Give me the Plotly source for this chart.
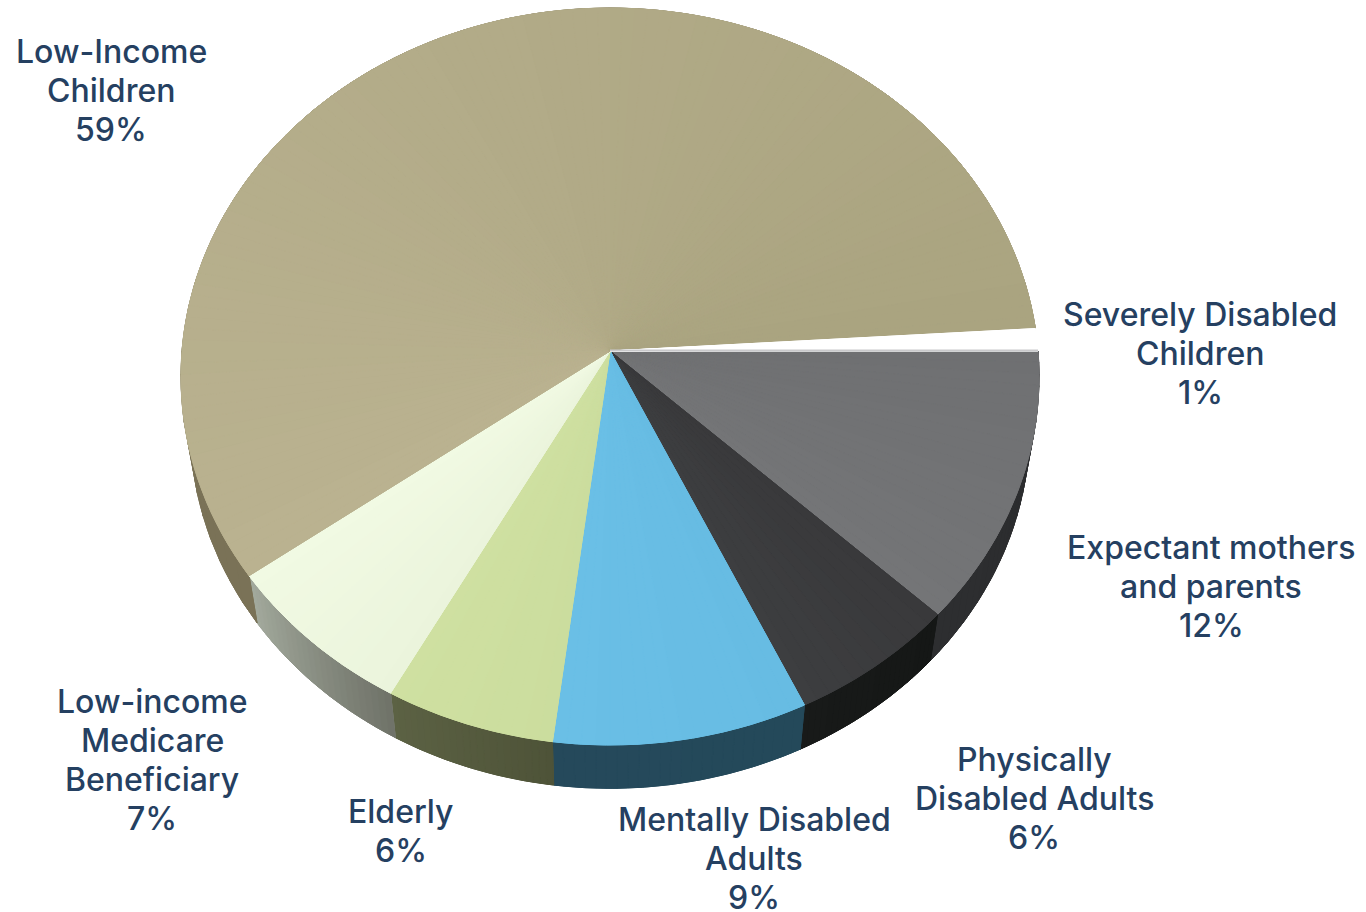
import math
import plotly.graph_objects as go

# Slices run clockwise from the right-hand horizontal, in percent.
categories = [
    "Expectant mothers and parents",
    "Physically Disabled Adults",
    "Mentally Disabled Adults",
    "Elderly",
    "Low-income Medicare Beneficiary",
    "Low-Income Children",
    "Severely Disabled Children",
]
shares = [12, 6, 9, 6, 7, 59, 1]
label_lines = [
    ["Expectant mothers", "and parents"],
    ["Physically", "Disabled Adults"],
    ["Mentally Disabled", "Adults"],
    ["Elderly"],
    ["Low-income", "Medicare", "Beneficiary"],
    ["Low-Income", "Children"],
    ["Severely Disabled", "Children"],
]

# Colours at the start and end of each slice's arc.
FACE_COLORS = [
    ("#6f7072", "#747577"), ("#39393b", "#3d3e40"), ("#67bce3", "#6abfe6"),
    ("#cbdd9e", "#cfe0a1"), ("#ebf4dc", "#f1fae3"), ("#bab290", "#aaa480"),
    ("#ffffff", "#ffffff"),
]
WALL_COLORS = [
    ("#2b2c2e", "#2d2e30"), ("#151716", "#181a19"), ("#24495a", "#25495b"),
    ("#4e5338", "#5c6244"), ("#6f7268", "#a3aa9d"), ("#7a7257", "#7f7759"),
    ("#ffffff", "#ffffff"),
]
TEXT_COLOR = "#254061"
FONT = "Inter"

# Tilted-disc projection around the hub of the pie.
HUB_X, HUB_Y = 610, 351
RADIUS_X, RADIUS_Y = 428, 366.7
TILT = -0.0692
BASE_SCALE, BASE_DROP = 0.978, 52

# Where the text block of each slice is centred, and its line pitch.
LABEL_ANCHORS = [(1211, 547), (1034, 759), (754, 819), (401, 811),
                 (152, 701), (111, 51), (1200, 314)]
LINE_PITCH = 39.3


def rim(angle, base=False):
    u, v = math.cos(angle), math.sin(angle)
    d = 1 + TILT * v
    x, y = RADIUS_X * u / d, RADIUS_Y * v / d
    if base:
        return HUB_X + BASE_SCALE * x, HUB_Y + BASE_SCALE * y + BASE_DROP
    return HUB_X + x, HUB_Y + y


def blend(c0, c1, f):
    a = [int(c0[i:i + 2], 16) for i in (1, 3, 5)]
    b = [int(c1[i:i + 2], 16) for i in (1, 3, 5)]
    return "#" + "".join(f"{round(p + (q - p) * f):02x}" for p, q in zip(a, b))


def polygon(pts, color):
    return go.Scatter(x=[p[0] for p in pts], y=[p[1] for p in pts], mode="lines",
                      fill="toself", fillcolor=color,
                      line=dict(color=color, width=1), hoverinfo="skip",
                      showlegend=False)


def wall_points(a0, a1, n):
    arc = [a0 + (a1 - a0) * j / n for j in range(n + 1)]
    top = [rim(a) for a in arc]
    return top + [rim(a, True) for a in reversed(arc)] + top[:1]


def face_points(a0, a1, n):
    rimline = [rim(a0 + (a1 - a0) * j / n) for j in range(n + 1)]
    return [(HUB_X, HUB_Y)] + rimline + [(HUB_X, HUB_Y)]


def add_banded(fig, a0, a1, colors, bands, points):
    # A solid slice underneath keeps the band joints from showing the page.
    fig.add_trace(polygon(points(a0, a1, 120), blend(*colors, 0.5)))
    for k in range(bands):
        b0 = a0 + (a1 - a0) * k / bands
        b1 = a0 + (a1 - a0) * (k + 1) / bands
        fig.add_trace(polygon(points(b0, b1, 4), blend(*colors, (k + .5) / bands)))


fig = go.Figure()

edges = [0]
for s in shares:
    edges.append(edges[-1] + s / sum(shares) * 2 * math.pi)

# Side walls first, the top faces are laid over them.
for i, s in enumerate(shares[:-1]):
    add_banded(fig, edges[i], edges[i + 1], WALL_COLORS[i], max(24, s), wall_points)
for i, s in enumerate(shares):
    add_banded(fig, edges[i], edges[i + 1], FACE_COLORS[i], max(12, s * 2), face_points)

# Pale edge where the thin white slice meets the grey one.
edge_x, edge_y = rim(0)
fig.add_trace(go.Scatter(x=[HUB_X, edge_x], y=[HUB_Y - 0.5, edge_y - 0.5], mode="lines",
                         line=dict(color="#c9c9cb", width=2), hoverinfo="skip",
                         showlegend=False))

for (cx, cy), lines, s in zip(LABEL_ANCHORS, label_lines, shares):
    for n, text in enumerate(lines + [f"{s}%"]):
        fig.add_annotation(x=cx, y=cy + n * LINE_PITCH, text=text, showarrow=False,
                           xanchor="center", yanchor="middle",
                           font=dict(family=FONT, size=32, color=TEXT_COLOR, weight=500))

fig.update_layout(
    width=1366, height=912, autosize=False,
    margin=dict(l=0, r=0, t=0, b=0),
    paper_bgcolor="white", plot_bgcolor="white", showlegend=False,
    xaxis=dict(range=[0, 1366], visible=False, fixedrange=True),
    yaxis=dict(range=[912, 0], visible=False, fixedrange=True),
)

fig.write_html("out.html", config={"displayModeBar": False})
